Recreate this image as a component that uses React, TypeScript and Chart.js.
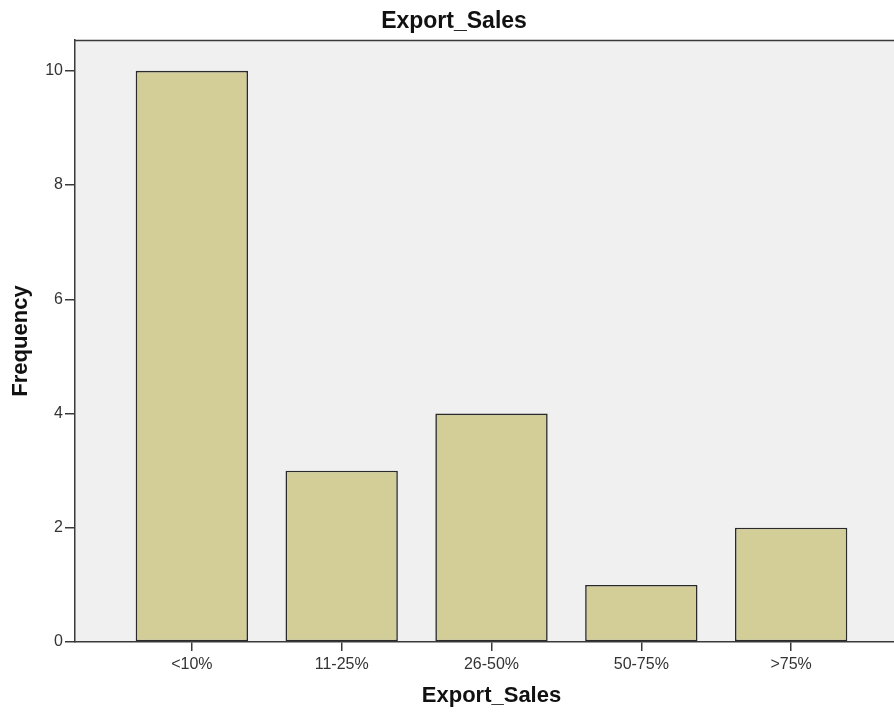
import React, { useEffect, useRef } from "react";
import { Chart, registerables } from "chart.js";

Chart.register(...registerables);

const categories: string[] = ["<10%", "11-25%", "26-50%", "50-75%", ">75%"];
const frequencies: number[] = [10, 3, 4, 1, 2];
const yTicks: number[] = [0, 2, 4, 6, 8, 10];
const chartTitle = "Export_Sales";
const xTitle = "Export_Sales";
const yTitle = "Frequency";

const FONT = "'Liberation Sans', Arial, Helvetica, sans-serif";
const LINE = "#3a3a3a";

const framePlugin = {
  id: "frame",
  beforeDraw(chart: any) {
    const { ctx, chartArea } = chart;
    if (!chartArea) return;
    ctx.save();
    ctx.fillStyle = "#f0f0f0";
    ctx.fillRect(chartArea.left, chartArea.top, chartArea.right - chartArea.left, chartArea.bottom - chartArea.top);
    ctx.strokeStyle = LINE;
    ctx.lineWidth = 1.5;
    ctx.beginPath();
    ctx.moveTo(chartArea.left, chartArea.top + 0.5);
    ctx.lineTo(chartArea.right, chartArea.top + 0.5);
    ctx.stroke();
    ctx.restore();
  },
};

export default function App() {
  const ref = useRef<HTMLCanvasElement | null>(null);

  useEffect(() => {
    if (!ref.current) return;
    const chart = new Chart(ref.current, {
      type: "bar",
      data: {
        datasets: [
          {
            label: yTitle,
            data: frequencies.map((v, i) => ({ x: i, y: v })),
            backgroundColor: "#d3ce97",
            borderColor: "#2a2a2a",
            borderWidth: 1.6,
            borderSkipped: false,
            categoryPercentage: 1,
            barPercentage: 0.75,
          },
        ],
      },
      options: {
        animation: false,
        responsive: false,
        layout: { padding: 0 },
        plugins: {
          legend: { display: false },
          tooltip: { enabled: false },
          title: {
            display: true,
            text: chartTitle,
            color: "#111",
            font: { family: FONT, size: 23, weight: "bold", lineHeight: 1.2 },
            padding: { top: 8, bottom: 4.4 },
          },
        },
        scales: {
          x: {
            type: "linear",
            offset: false,
            min: -0.78,
            max: 4.78,
            afterBuildTicks: (scale: any) => {
              scale.ticks = categories.map((_, i) => ({ value: i }));
            },
            afterFit: (scale: any) => {
              scale.height = 73;
            },
            ticks: {
              autoSkip: false,
              maxRotation: 0,
              padding: 4,
              color: "#333",
              font: { family: FONT, size: 16 },
              callback: (v: any) => categories[Number(v)] ?? "",
            },
            grid: {
              display: true,
              offset: false,
              drawOnChartArea: false,
              drawTicks: true,
              tickLength: 9,
              color: LINE,
              lineWidth: 1.5,
            },
            border: { display: true, color: LINE, width: 1.5 },
            title: {
              display: true,
              text: xTitle,
              color: "#111",
              font: { family: FONT, size: 22, weight: "bold", lineHeight: 1.2 },
              padding: { top: 4, bottom: 6 },
            },
          },
          y: {
            type: "linear",
            min: 0,
            max: 10.54,
            afterBuildTicks: (scale: any) => {
              scale.ticks = yTicks.map((v) => ({ value: v }));
            },
            afterFit: (scale: any) => {
              scale.width = 75;
            },
            ticks: {
              padding: 2,
              color: "#333",
              font: { family: FONT, size: 16 },
            },
            grid: {
              display: true,
              drawOnChartArea: false,
              drawTicks: true,
              tickLength: 10,
              color: LINE,
              lineWidth: 1.5,
            },
            border: { display: true, color: LINE, width: 1.5 },
            title: {
              display: true,
              text: yTitle,
              color: "#111",
              font: { family: FONT, size: 22, weight: "bold", lineHeight: 1.2 },
              padding: { top: 8, bottom: 4 },
            },
          },
        },
      },
      plugins: [framePlugin],
    } as any);
    return () => chart.destroy();
  }, []);

  return (
    <div style={{ position: "absolute", left: 0, top: 0, width: 894, height: 715, overflow: "hidden", background: "#fff" }}>
      <canvas ref={ref} width={908} height={715} style={{ display: "block" }} />
    </div>
  );
}
